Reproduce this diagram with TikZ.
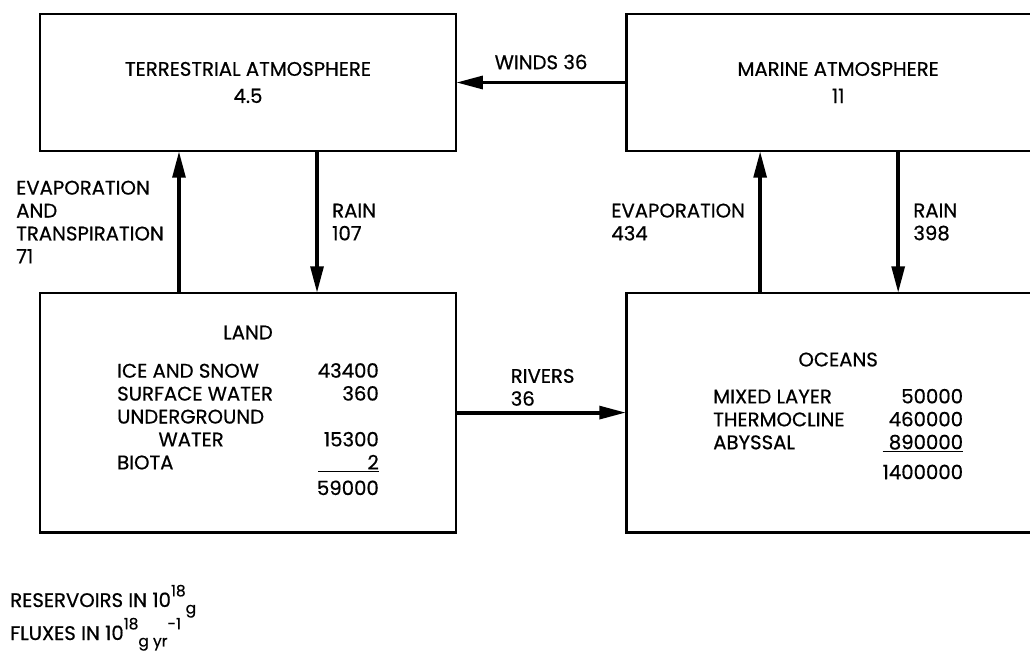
\documentclass[tikz,border=0pt]{standalone}
\usepackage{fontspec}
\setmainfont{Poppins}[FakeBold=0.6]
\usepackage{tikz}
\usetikzlibrary{arrows.meta,positioning,calc}
\newcommand{\raiseup}[1]{\raisebox{1.0ex}{\fontsize{11}{12}\selectfont #1}}
\newcommand{\lowerdn}[1]{\raisebox{-0.6ex}{\fontsize{11}{12}\selectfont #1}}

\begin{document}
\begin{tikzpicture}[
  x=0.025cm,y=-0.025cm,
  box/.style={rectangle,draw,line width=2pt,outer sep=0pt,align=center},
  flux/.style={-{Triangle[length=19pt,width=9pt]},line width=2.8pt},
  lbl/.style={inner sep=0pt,align=left},
  font=\fontsize{14}{16.3}\selectfont
]
\useasboundingbox (0,0) rectangle (1030,652);
\clip (0,0) rectangle (1030,652);
% reservoirs
\node[box,minimum width=10.4cm,minimum height=3.425cm] (terr) at (248,82.5) {TERRESTRIAL ATMOSPHERE\\[3pt]4.5};
\node[box,minimum width=10.6cm,minimum height=3.425cm,right=4.25cm of terr] (marine) {MARINE ATMOSPHERE\\[3pt]11};
\node[box,minimum width=10.4cm,minimum height=5.975cm,below=3.55cm of terr] (land) {%
  \begin{tabular}{@{}l@{\hspace{1.1cm}}r@{}}
  \multicolumn{2}{c}{LAND}\\[11pt]
  ICE AND SNOW & 43400\\
  SURFACE WATER & 360\\
  UNDERGROUND & \\
  \hspace{2.1em}WATER & 15300\\
  BIOTA & \underline{\phantom{5900}2}\\[2pt]
   & 59000
  \end{tabular}};
\node[box,minimum width=10.6cm,minimum height=5.975cm,right=4.25cm of land] (oceans) {%
  \begin{tabular}{@{}l@{\hspace{0.95cm}}r@{}}
  \multicolumn{2}{c}{OCEANS}\\[10pt]
  MIXED LAYER & 50000\\
  THERMOCLINE & 460000\\
  ABYSSAL & \underline{\phantom{1}890000}\\[5pt]
   & 1400000\\[-8pt]
  \end{tabular}};
% fluxes
\draw[flux] (marine) -- (terr) node[lbl,midway,above=0.28cm] (winds) {WINDS 36};
\draw[flux] ([xshift=3.475cm]land.north west) -- ([xshift=3.475cm]terr.south west)
  node[lbl,midway,left=0.33cm] (evtr) {EVAPORATION\\AND\\TRANSPIRATION\\71};
\draw[flux] ([xshift=6.925cm]terr.south west) -- ([xshift=6.925cm]land.north west)
  node[lbl,midway,right=0.33cm] (rainl) {RAIN\\107};
\draw[flux] ([xshift=3.35cm]oceans.north west) -- ([xshift=3.35cm]marine.south west)
  node[lbl,midway,left=0.33cm] (evoc) {EVAPORATION\\434};
\draw[flux] ([xshift=6.8cm]marine.south west) -- ([xshift=6.8cm]oceans.north west)
  node[lbl,midway,right=0.33cm] (raino) {RAIN\\398};
\draw[flux] (land) -- (oceans) node[lbl,pos=0.31,above right=0.12cm and 0cm] (rivers) {RIVERS\\36};
% units
\node[lbl,anchor=base west] (resunit) at (10,607) {RESERVOIRS IN 10\raiseup{18}\lowerdn{g}};
\node[lbl,anchor=base west] (fluxunit) at (10,640) {FLUXES IN 10\raiseup{18}\lowerdn{g yr}\raiseup{-1}};
\end{tikzpicture}
\end{document}
